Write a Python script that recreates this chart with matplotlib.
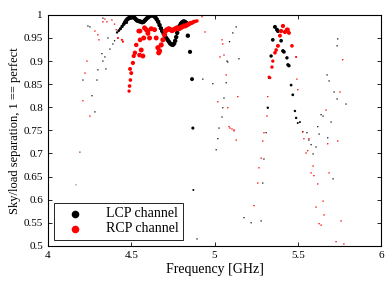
import matplotlib
matplotlib.use("Agg")
import matplotlib.pyplot as plt
import numpy as np

plt.rcParams['font.family'] = ['Liberation Serif', 'DejaVu Serif']

# LCP channel: main curve (strong points)
lcp_main_f = [4.415, 4.425, 4.435, 4.445, 4.455, 4.462, 4.470, 4.478, 4.486, 4.494,
              4.502, 4.510, 4.518, 4.526, 4.534, 4.542, 4.550, 4.558, 4.566, 4.574,
              4.582, 4.590, 4.598, 4.606, 4.614, 4.622, 4.630, 4.638, 4.646, 4.654,
              4.662, 4.670, 4.678, 4.686, 4.694, 4.702, 4.710, 4.718, 4.726, 4.734,
              4.742, 4.750, 4.758, 4.764, 4.770, 4.776, 4.782, 4.790, 4.798, 4.806,
              4.814, 4.822, 4.830]
lcp_main_s = [0.962, 0.966, 0.970, 0.975, 0.980, 0.984, 0.988, 0.991, 0.993, 0.994,
              0.995, 0.995, 0.994, 0.991, 0.988, 0.987, 0.986, 0.985, 0.984, 0.985,
              0.988, 0.991, 0.994, 0.996, 0.998, 0.999, 0.999, 0.997, 0.994, 0.990,
              0.985, 0.978, 0.971, 0.965, 0.960, 0.955, 0.950, 0.946, 0.942, 0.938,
              0.936, 0.935, 0.938, 0.944, 0.952, 0.961, 0.969, 0.976, 0.981, 0.984,
              0.986, 0.985, 0.983]
lcp_main_w = [3, 4, 5, 6, 7, 8, 9, 10, 10, 10,
              10, 10, 10, 10, 10, 10, 10, 10, 10, 10,
              10, 10, 10, 10, 10, 10, 10, 10, 10, 10,
              10, 10, 10, 10, 10, 10, 10, 10, 10, 10,
              10, 10, 10, 10, 10, 10, 10, 10, 10, 10,
              10, 10, 10]

# LCP channel: remaining points
lcp_f = [4.84, 4.853, 4.865, 4.87, 4.873, 4.895,
         5.35, 5.363, 5.375, 5.381, 5.40, 5.411, 5.417, 5.34, 5.435, 5.441, 5.447,
         5.46, 5.47, 5.483, 5.32, 5.49, 5.327, 5.513, 5.50,
         4.24, 4.252, 4.33, 4.36, 4.40, 4.39, 4.372, 4.324, 4.342, 4.33, 4.30, 4.348,
         4.294, 4.21, 4.444, 4.474, 4.264, 4.282, 4.192, 4.168, 4.93, 4.99,
         5.13, 5.11, 5.09, 5.147, 5.08, 5.07, 5.057, 5.05, 5.045, 5.027, 5.02, 5.01,
         5.075, 5.31, 5.297, 5.29, 5.177, 5.22, 5.28,
         5.74, 5.736, 5.676, 5.688, 5.718, 5.736, 5.79, 5.652, 5.64, 5.70, 5.628,
         5.68, 5.53, 5.555, 5.62, 5.567, 5.58, 5.61, 5.592, 5.712]
lcp_s = [0.955, 0.920, 0.861, 0.755, 0.621, 0.515,
         0.946, 0.974, 0.968, 0.965, 0.944, 0.922, 0.920, 0.911, 0.907, 0.892, 0.890,
         0.848, 0.827, 0.792, 0.799, 0.777, 0.864, 0.768, 0.766,
         0.976, 0.974, 0.993, 0.950, 0.944, 0.937, 0.926, 0.916, 0.909, 0.900, 0.881, 0.883,
         0.859, 0.859, 0.974, 0.983, 0.825, 0.790, 0.703, 0.632, 0.861, 0.851,
         0.974, 0.961, 0.942, 0.905, 0.898, 0.853, 0.820, 0.799, 0.779, 0.755, 0.732, 0.708,
         0.900, 0.745, 0.688, 0.636, 0.561, 0.550, 0.554,
         0.948, 0.933, 0.870, 0.857, 0.833, 0.818, 0.807, 0.781, 0.784, 0.768, 0.742,
         0.734, 0.747, 0.745, 0.758, 0.729, 0.719, 0.714, 0.699, 0.645]
lcp_w = [10, 9, 8, 5, 2, 1,
         7, 8, 8, 8, 7, 7, 7, 6, 6, 6, 6,
         4, 4, 3, 3, 3, 3, 2, 2,
         1, 1, 1, 1, 1, 1, 1, 1, 1, 1, 1, 1,
         1, 1, 2, 3, 1, 1, 0.5, 0.5, 1, 1,
         1, 1, 1, 1, 1, 1, 1, 1, 1, 1, 1, 1,
         1, 1, 1, 1, 1, 1, 1,
         1, 1, 1, 1, 1, 1, 1, 1, 1, 1, 1,
         1, 1, 1, 1, 1, 1, 1, 1, 1]

# RCP channel: main cluster
rcp_main_f = [4.487, 4.49, 4.495, 4.50, 4.493, 4.51, 4.515, 4.522, 4.53, 4.55,
              4.553, 4.545, 4.56, 4.57, 4.575, 4.553, 4.58, 4.59, 4.60, 4.61,
              4.62, 4.60, 4.64, 4.65, 4.66, 4.665, 4.67, 4.68, 4.69, 4.70,
              4.705, 4.715, 4.725, 4.735, 4.745, 4.755, 4.765, 4.775, 4.785, 4.795,
              4.805, 4.815, 4.825, 4.835, 4.845, 4.855, 4.865, 4.875, 4.885, 4.895]
rcp_main_s = [0.835, 0.846, 0.859, 0.874, 0.883, 0.896, 0.911, 0.918, 0.935, 0.913,
              0.946, 0.965, 0.924, 0.911, 0.950, 0.965, 0.972, 0.968, 0.965, 0.950,
              0.970, 0.960, 0.968, 0.950, 0.929, 0.918, 0.922, 0.935, 0.946, 0.957,
              0.965, 0.968, 0.970, 0.968, 0.966, 0.968, 0.970, 0.972, 0.970, 0.972,
              0.974, 0.976, 0.976, 0.978, 0.980, 0.982, 0.983, 0.985, 0.986, 0.987]
rcp_main_w = [5, 6, 6, 7, 7, 8, 8, 9, 9, 10,
              10, 10, 11, 11, 11, 10, 11, 11, 11, 11,
              11, 11, 11, 11, 12, 12, 12, 12, 12, 12,
              12, 12, 12, 12, 12, 12, 12, 12, 12, 12,
              11, 11, 11, 10, 10, 9, 8, 7, 6, 5]

# RCP channel: remaining points
rcp_f = [5.411, 5.435, 5.44, 5.40, 5.423, 5.447, 5.393, 5.381, 5.465, 5.37,
         5.363, 5.35, 5.345, 5.333, 5.327,
         4.24, 4.342, 4.33, 4.354, 4.384, 4.40, 4.41, 4.282, 4.30, 4.306,
         4.42, 4.444, 4.45, 4.234, 4.222, 4.21, 4.252, 4.192,
         4.925, 4.943, 5.045, 5.05, 5.033, 5.057, 5.07, 5.02, 5.08, 5.14, 5.093, 5.117,
         5.77, 5.754, 5.67, 5.567, 5.53, 5.49, 5.495, 5.50, 5.32, 5.315, 5.297,
         5.087, 5.105, 5.117, 5.13, 5.29, 5.28, 5.267, 5.26, 5.237,
         5.537, 5.68, 5.74, 5.56, 5.55, 5.592, 5.58, 5.597, 5.688, 5.62, 5.652,
         5.61, 5.658, 5.76, 5.628, 5.64, 5.73, 5.777]
rcp_s = [0.976, 0.968, 0.968, 0.965, 0.963, 0.961, 0.955, 0.933, 0.933, 0.924,
         0.918, 0.900, 0.887, 0.864, 0.866,
         1.000, 0.991, 0.985, 0.985, 0.989, 0.980, 0.968, 0.965, 0.957, 0.946,
         0.950, 0.946, 0.942, 0.900, 0.874, 0.814, 0.781, 0.703,
         0.996, 0.963, 0.946, 0.937, 0.909, 0.913, 0.870, 0.812, 0.799, 0.823, 0.755, 0.751,
         0.903, 0.833, 0.794, 0.732, 0.747, 0.909, 0.861, 0.838, 0.823, 0.781, 0.745,
         0.758, 0.753, 0.749, 0.729, 0.727, 0.690, 0.669, 0.636, 0.587,
         0.732, 0.721, 0.727, 0.706, 0.701, 0.673, 0.658, 0.652, 0.658, 0.634, 0.597,
         0.584, 0.567, 0.554, 0.548, 0.545, 0.509, 0.504]
rcp_w = [8, 8, 8, 8, 8, 7, 7, 7, 6, 6,
         6, 5, 5, 4, 3,
         1, 1, 1, 1, 1, 1, 1, 1, 1, 1,
         2, 2, 2, 1, 1, 1, 1, 0.5,
         1, 1, 1, 1, 1, 1, 1, 1, 1, 1, 1, 1,
         1, 1, 1, 1, 1, 2, 1, 1, 1, 1, 1,
         1, 1, 1, 1, 1, 1, 1, 1, 1,
         1, 1, 1, 1, 1, 1, 1, 1, 1, 1, 1,
         1, 1, 1, 1, 1, 1, 1]

fig = plt.figure(figsize=(3.9, 2.81), dpi=100)
ax = fig.add_axes([0.123, 0.125, 0.854, 0.822])

ax.scatter(lcp_main_f + lcp_f, lcp_main_s + lcp_s, s=np.array(lcp_main_w + lcp_w) * 1.0,
           c='k', linewidths=0, label='LCP channel')
ax.scatter(rcp_main_f + rcp_f, rcp_main_s + rcp_s, s=np.array(rcp_main_w + rcp_w) * 1.15,
           c='r', linewidths=0, label='RCP channel')

ax.set_xlim(4, 6)
ax.set_ylim(0.5, 1)
ax.set_xticks([4, 4.5, 5, 5.5, 6])
ax.set_xticklabels(['4', '4.5', '5', '5.5', '6'])
ax.set_yticks(np.arange(0.5, 1.001, 0.05))
ax.set_yticklabels(['0.5', '0.55', '0.6', '0.65', '0.7', '0.75', '0.8', '0.85', '0.9', '0.95', '1'])
ax.tick_params(direction='in', top=True, right=True, labelsize=8, length=3, width=0.6)
for sp in ax.spines.values():
    sp.set_linewidth(0.8)

ax.set_xlabel('Frequency [GHz]', fontsize=10, labelpad=2)
ax.set_ylabel('Sky/load separation, 1 == perfect', fontsize=9, labelpad=2)

leg = ax.legend(loc='lower left', fontsize=10, markerscale=1, scatterpoints=1,
                fancybox=False, edgecolor='k', framealpha=1, borderaxespad=0.4,
                handletextpad=1.0, borderpad=0.35, labelspacing=0.15, handlelength=2.4)
leg.get_frame().set_linewidth(0.6)
for h in leg.legend_handles:
    h.set_sizes([30])

fig.savefig('out.png', dpi=100)
